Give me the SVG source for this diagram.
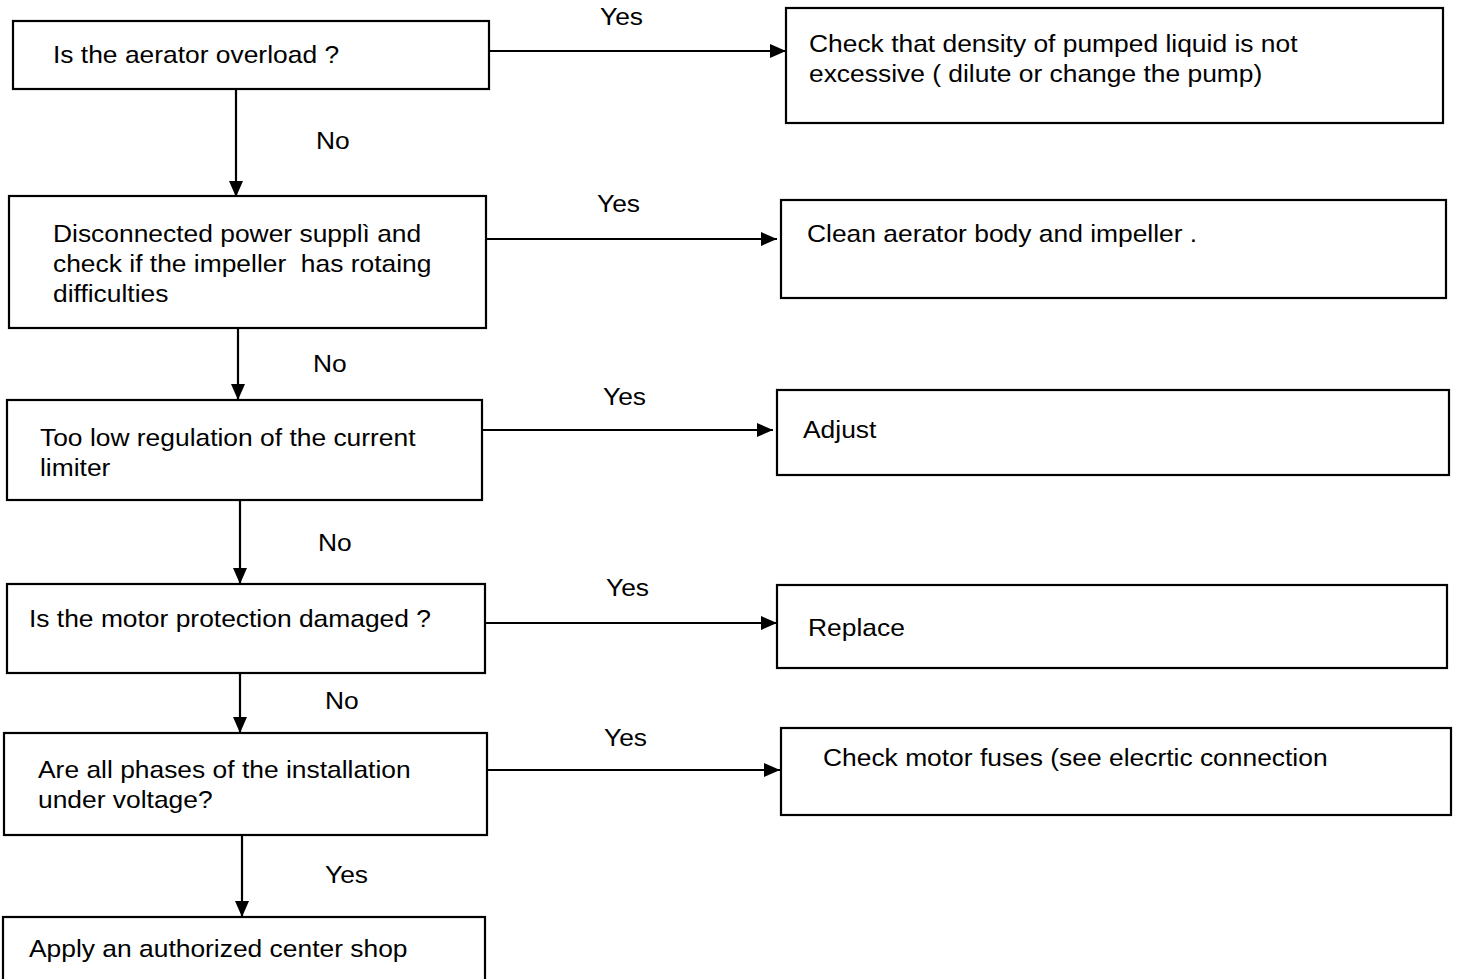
<svg xmlns="http://www.w3.org/2000/svg" width="1459" height="979" viewBox="0 0 1459 979">
  <defs>
    <marker id="arrow" viewBox="0 0 16 14" refX="16" refY="7" markerWidth="16" markerHeight="14" markerUnits="userSpaceOnUse" orient="auto">
      <path d="M0,0 L16,7 L0,14 Z" fill="#000"/>
    </marker>
  </defs>
  <style>
    .box { fill: #fff; stroke: #000; stroke-width: 2.2; }
    .lbl { font-family: "Liberation Sans", Arial, sans-serif; font-size: 24px; fill: #000; white-space: pre; }
    .edge { fill: none; stroke: #000; stroke-width: 2.2; marker-end: url(#arrow); }
  </style>
  <rect width="1459" height="979" fill="#fff"/>

  <!-- connectors -->
  <g id="connectors">
    <path class="edge" d="M489,51 H786"/>
    <path class="edge" d="M236,89 V197"/>
    <path class="edge" d="M486,239 H777"/>
    <path class="edge" d="M238,328 V400"/>
    <path class="edge" d="M482,430 H773"/>
    <path class="edge" d="M240,500 V584"/>
    <path class="edge" d="M485,623 H777"/>
    <path class="edge" d="M240,673 V733"/>
    <path class="edge" d="M487,770 H780"/>
    <path class="edge" d="M242,835 V917"/>
    <text class="lbl" transform="matrix(1.1 0 0 1 600 25)">Yes</text>
    <text class="lbl" transform="matrix(1.1 0 0 1 316 149)">No</text>
    <text class="lbl" transform="matrix(1.1 0 0 1 597 212)">Yes</text>
    <text class="lbl" transform="matrix(1.1 0 0 1 313 372)">No</text>
    <text class="lbl" transform="matrix(1.1 0 0 1 603 405)">Yes</text>
    <text class="lbl" transform="matrix(1.1 0 0 1 318 551)">No</text>
    <text class="lbl" transform="matrix(1.1 0 0 1 606 596)">Yes</text>
    <text class="lbl" transform="matrix(1.1 0 0 1 325 709)">No</text>
    <text class="lbl" transform="matrix(1.1 0 0 1 604 746)">Yes</text>
    <text class="lbl" transform="matrix(1.1 0 0 1 325 883)">Yes</text>
  </g>

  <!-- decision column -->
  <g id="q-overload">
    <rect class="box" x="13" y="21" width="476" height="68"/>
    <text class="lbl" transform="matrix(1.1 0 0 1 53 63)">Is the aerator overload ?</text>
  </g>
  <g id="q-impeller">
    <rect class="box" x="9" y="196" width="477" height="132"/>
    <text class="lbl" transform="matrix(1.1 0 0 1 53 242)">Disconnected power supplì and</text>
    <text class="lbl" transform="matrix(1.1 0 0 1 53 272)">check if the impeller  has rotaing</text>
    <text class="lbl" transform="matrix(1.1 0 0 1 53 302)">difficulties</text>
  </g>
  <g id="q-limiter">
    <rect class="box" x="7" y="400" width="475" height="100"/>
    <text class="lbl" transform="matrix(1.1 0 0 1 40 446)">Too low regulation of the current</text>
    <text class="lbl" transform="matrix(1.1 0 0 1 40 476)">limiter</text>
  </g>
  <g id="q-protection">
    <rect class="box" x="7" y="584" width="478" height="89"/>
    <text class="lbl" transform="matrix(1.1 0 0 1 29 627)">Is the motor protection damaged ?</text>
  </g>
  <g id="q-phases">
    <rect class="box" x="4" y="733" width="483" height="102"/>
    <text class="lbl" transform="matrix(1.1 0 0 1 38 778)">Are all phases of the installation</text>
    <text class="lbl" transform="matrix(1.1 0 0 1 38 808)">under voltage?</text>
  </g>
  <g id="a-service">
    <rect class="box" x="3" y="917" width="482" height="80"/>
    <text class="lbl" transform="matrix(1.1 0 0 1 29 957)">Apply an authorized center shop</text>
  </g>

  <!-- action column -->
  <g id="a-density">
    <rect class="box" x="786" y="8" width="657" height="115"/>
    <text class="lbl" transform="matrix(1.1 0 0 1 809 52)">Check that density of pumped liquid is not</text>
    <text class="lbl" transform="matrix(1.1 0 0 1 809 82)">excessive ( dilute or change the pump)</text>
  </g>
  <g id="a-clean">
    <rect class="box" x="781" y="200" width="665" height="98"/>
    <text class="lbl" transform="matrix(1.1 0 0 1 807 242)">Clean aerator body and impeller .</text>
  </g>
  <g id="a-adjust">
    <rect class="box" x="777" y="390" width="672" height="85"/>
    <text class="lbl" transform="matrix(1.1 0 0 1 803 438)">Adjust</text>
  </g>
  <g id="a-replace">
    <rect class="box" x="777" y="585" width="670" height="83"/>
    <text class="lbl" transform="matrix(1.1 0 0 1 808 636)">Replace</text>
  </g>
  <g id="a-fuses">
    <rect class="box" x="781" y="728" width="670" height="87"/>
    <text class="lbl" transform="matrix(1.1 0 0 1 823 766)">Check motor fuses (see elecrtic connection</text>
  </g>
</svg>
